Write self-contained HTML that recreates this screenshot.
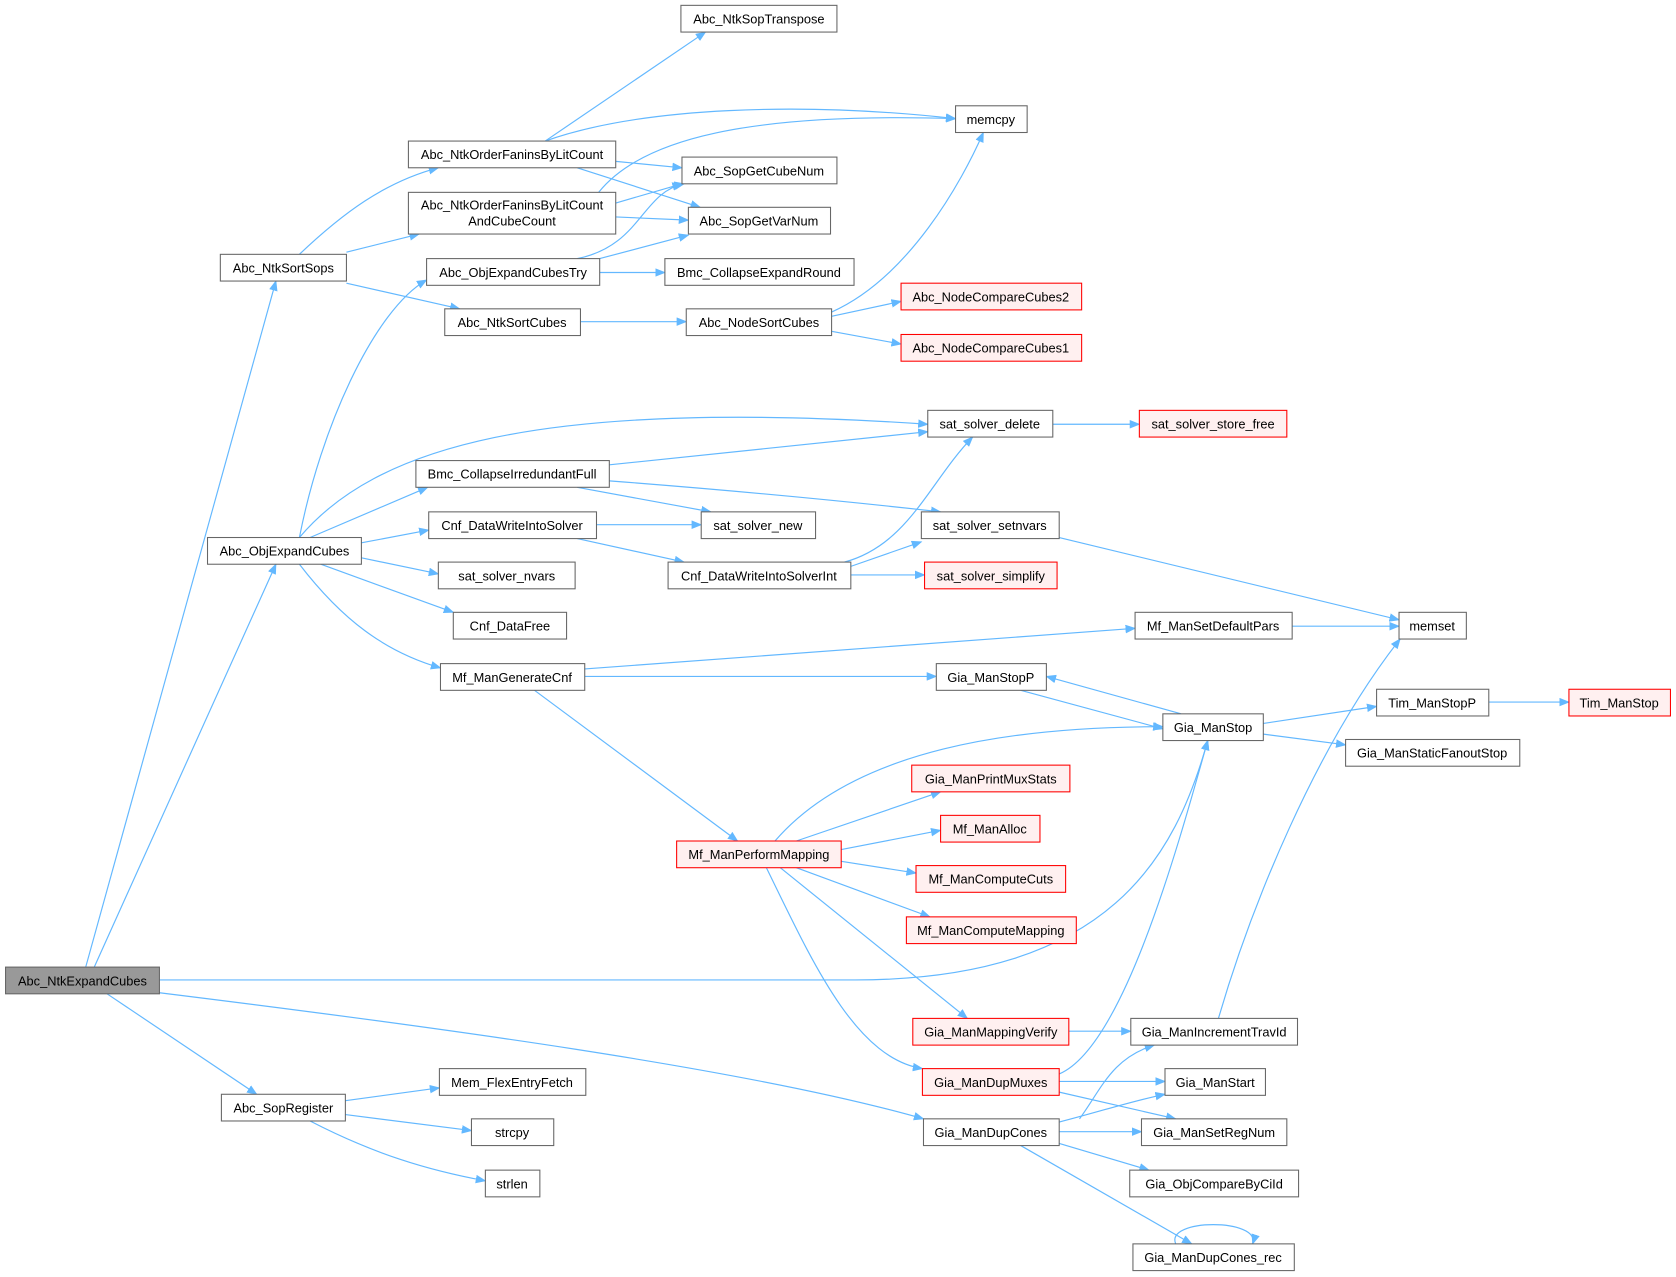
<!DOCTYPE html>
<html><head><meta charset="utf-8"><style>
html,body{margin:0;padding:0;background:#fff;}
svg{display:block;}
text{font-family:"Liberation Sans",Arial,sans-serif;font-size:12px;fill:#000;}
.e{fill:none;stroke:#63b8ff;stroke-width:1.1;}
.n rect{fill:#fff;stroke:#666;stroke-width:1;}
.r rect{fill:#fff0f0;stroke:#ff0000;}
</style></head><body>
<svg width="1676" height="1277" viewBox="0 0 1568 1195" xmlns="http://www.w3.org/2000/svg">
<defs><marker id="a" markerWidth="10" markerHeight="8" refX="9" refY="4" orient="auto" markerUnits="userSpaceOnUse"><path d="M0,0 L10,4 L0,8 z" fill="#63b8ff"/></marker></defs>
<g marker-end="url(#a)">
<path class="e" d="M80,905 L258,263"/>
<path class="e" d="M88,905 L258,528"/>
<path class="e" d="M149,917 L800,917 C1040,917 1100,800 1130,693"/>
<path class="e" d="M149,929 C400,960 700,1000 864,1047"/>
<path class="e" d="M100,930 L240,1024"/>
<path class="e" d="M280,238 C320,200 360,170 410,157"/>
<path class="e" d="M324,236 L392,219"/>
<path class="e" d="M324,265 L430,289"/>
<path class="e" d="M280,503 C300,400 350,290 399,262"/>
<path class="e" d="M280,503 C350,420 500,372 868,397"/>
<path class="e" d="M290,503 L400,456"/>
<path class="e" d="M338,508 L401,496"/>
<path class="e" d="M338,522 L410,537"/>
<path class="e" d="M300,528 L424,573"/>
<path class="e" d="M280,528 C320,580 360,610 412,625"/>
<path class="e" d="M510,132 L660,30"/>
<path class="e" d="M510,132 C600,100 750,95 894,111"/>
<path class="e" d="M576,151 L638,157"/>
<path class="e" d="M540,157 L655,194"/>
<path class="e" d="M560,180 C600,130 700,105 894,111"/>
<path class="e" d="M576,190 L638,172"/>
<path class="e" d="M576,203 L644,206"/>
<path class="e" d="M540,242 C600,230 600,180 640,172"/>
<path class="e" d="M561,242 L644,220"/>
<path class="e" d="M561,255 L622,255"/>
<path class="e" d="M543,301 L642,301"/>
<path class="e" d="M778,292 C850,260 900,170 920,124"/>
<path class="e" d="M778,296 L843,282"/>
<path class="e" d="M778,310 L843,322"/>
<path class="e" d="M985,397 L1066,397"/>
<path class="e" d="M570,435 L868,404"/>
<path class="e" d="M540,456 L665,479"/>
<path class="e" d="M570,450 C700,460 800,470 880,479"/>
<path class="e" d="M558,491 L656,491"/>
<path class="e" d="M540,504 L640,526"/>
<path class="e" d="M790,526 C850,510 870,450 910,409"/>
<path class="e" d="M796,530 L862,507"/>
<path class="e" d="M796,538 L865,538"/>
<path class="e" d="M991,503 L1309,580"/>
<path class="e" d="M547,626 L1062,588"/>
<path class="e" d="M547,633 L876,633"/>
<path class="e" d="M500,646 L690,787"/>
<path class="e" d="M1209,586 L1309,586"/>
<path class="e" d="M955,646 L1088,682"/>
<path class="e" d="M1105,668 L979,633"/>
<path class="e" d="M1182,677 L1288,661"/>
<path class="e" d="M1182,687 L1259,697"/>
<path class="e" d="M1393,657 L1468,657"/>
<path class="e" d="M725,787 C800,700 950,680 1088,680"/>
<path class="e" d="M745,787 L880,741"/>
<path class="e" d="M787,795 L880,777"/>
<path class="e" d="M787,806 L857,817"/>
<path class="e" d="M745,812 L870,858"/>
<path class="e" d="M730,812 L905,953"/>
<path class="e" d="M717,812 C760,900 800,990 863,1000"/>
<path class="e" d="M1000,965 L1058,965"/>
<path class="e" d="M1140,953 C1170,850 1230,700 1310,598"/>
<path class="e" d="M991,1005 C1050,980 1100,800 1130,693"/>
<path class="e" d="M991,1012 L1090,1012"/>
<path class="e" d="M991,1022 L1100,1047"/>
<path class="e" d="M1010,1047 C1030,1020 1040,990 1080,978"/>
<path class="e" d="M991,1050 C1030,1040 1060,1030 1090,1024"/>
<path class="e" d="M991,1059 L1068,1059"/>
<path class="e" d="M991,1070 L1075,1095"/>
<path class="e" d="M955,1072 L1115,1164"/>
<path class="e" d="M1100,1164 C1090,1140 1180,1140 1172,1164"/>
<path class="e" d="M323,1030 L411,1018"/>
<path class="e" d="M323,1043 L441,1058"/>
<path class="e" d="M290,1049 C350,1080 400,1095 454,1105"/>
</g>
<g class="n">
<rect x="5" y="905" width="144" height="25" style="fill:#999"/><text x="77" y="922" text-anchor="middle">Abc_NtkExpandCubes</text>
<rect x="206" y="238" width="118" height="25"/><text x="265" y="255" text-anchor="middle">Abc_NtkSortSops</text>
<rect x="194" y="503" width="144" height="25"/><text x="266" y="520" text-anchor="middle">Abc_ObjExpandCubes</text>
<rect x="207" y="1024" width="116" height="25"/><text x="265" y="1041" text-anchor="middle">Abc_SopRegister</text>
<rect x="382" y="132" width="194" height="25"/><text x="479" y="149" text-anchor="middle">Abc_NtkOrderFaninsByLitCount</text>
<rect x="382" y="180" width="194" height="39"/><text x="479" y="196" text-anchor="middle">Abc_NtkOrderFaninsByLitCount</text><text x="479" y="211" text-anchor="middle">AndCubeCount</text>
<rect x="399" y="242" width="162" height="25"/><text x="480" y="259" text-anchor="middle">Abc_ObjExpandCubesTry</text>
<rect x="416" y="289" width="127" height="25"/><text x="479" y="306" text-anchor="middle">Abc_NtkSortCubes</text>
<rect x="389" y="431" width="181" height="25"/><text x="479" y="448" text-anchor="middle">Bmc_CollapseIrredundantFull</text>
<rect x="401" y="479" width="157" height="25"/><text x="479" y="496" text-anchor="middle">Cnf_DataWriteIntoSolver</text>
<rect x="410" y="526" width="128" height="25"/><text x="474" y="543" text-anchor="middle">sat_solver_nvars</text>
<rect x="424" y="573" width="106" height="25"/><text x="477" y="590" text-anchor="middle">Cnf_DataFree</text>
<rect x="412" y="621" width="135" height="25"/><text x="479" y="638" text-anchor="middle">Mf_ManGenerateCnf</text>
<rect x="411" y="1000" width="137" height="25"/><text x="479" y="1017" text-anchor="middle">Mem_FlexEntryFetch</text>
<rect x="441" y="1047" width="77" height="25"/><text x="479" y="1064" text-anchor="middle">strcpy</text>
<rect x="454" y="1095" width="51" height="25"/><text x="479" y="1112" text-anchor="middle">strlen</text>
<rect x="637" y="5" width="146" height="25"/><text x="710" y="22" text-anchor="middle">Abc_NtkSopTranspose</text>
<rect x="894" y="99" width="67" height="25"/><text x="927" y="116" text-anchor="middle">memcpy</text>
<rect x="638" y="147" width="145" height="25"/><text x="710" y="164" text-anchor="middle">Abc_SopGetCubeNum</text>
<rect x="644" y="194" width="133" height="25"/><text x="710" y="211" text-anchor="middle">Abc_SopGetVarNum</text>
<rect x="622" y="242" width="177" height="25"/><text x="710" y="259" text-anchor="middle">Bmc_CollapseExpandRound</text>
<rect x="642" y="289" width="136" height="25"/><text x="710" y="306" text-anchor="middle">Abc_NodeSortCubes</text>
<rect x="868" y="384" width="117" height="25"/><text x="926" y="401" text-anchor="middle">sat_solver_delete</text>
<rect x="656" y="479" width="107" height="25"/><text x="709" y="496" text-anchor="middle">sat_solver_new</text>
<rect x="862" y="479" width="129" height="25"/><text x="926" y="496" text-anchor="middle">sat_solver_setnvars</text>
<rect x="625" y="526" width="171" height="25"/><text x="710" y="543" text-anchor="middle">Cnf_DataWriteIntoSolverInt</text>
<rect x="1062" y="573" width="147" height="25"/><text x="1135" y="590" text-anchor="middle">Mf_ManSetDefaultPars</text>
<rect x="1309" y="573" width="63" height="25"/><text x="1340" y="590" text-anchor="middle">memset</text>
<rect x="876" y="621" width="103" height="25"/><text x="927" y="638" text-anchor="middle">Gia_ManStopP</text>
<rect x="1088" y="668" width="94" height="25"/><text x="1135" y="685" text-anchor="middle">Gia_ManStop</text>
<rect x="1288" y="645" width="105" height="25"/><text x="1340" y="662" text-anchor="middle">Tim_ManStopP</text>
<rect x="1259" y="692" width="163" height="25"/><text x="1340" y="709" text-anchor="middle">Gia_ManStaticFanoutStop</text>
<rect x="1058" y="953" width="156" height="25"/><text x="1136" y="970" text-anchor="middle">Gia_ManIncrementTravId</text>
<rect x="1090" y="1000" width="94" height="25"/><text x="1137" y="1017" text-anchor="middle">Gia_ManStart</text>
<rect x="864" y="1047" width="127" height="25"/><text x="927" y="1064" text-anchor="middle">Gia_ManDupCones</text>
<rect x="1068" y="1047" width="136" height="25"/><text x="1136" y="1064" text-anchor="middle">Gia_ManSetRegNum</text>
<rect x="1057" y="1095" width="158" height="25"/><text x="1136" y="1112" text-anchor="middle">Gia_ObjCompareByCiId</text>
<rect x="1060" y="1164" width="151" height="25"/><text x="1135" y="1181" text-anchor="middle">Gia_ManDupCones_rec</text>
</g>
<g class="n r">
<rect x="843" y="265" width="169" height="25"/><text x="927" y="282" text-anchor="middle">Abc_NodeCompareCubes2</text>
<rect x="843" y="313" width="169" height="25"/><text x="927" y="330" text-anchor="middle">Abc_NodeCompareCubes1</text>
<rect x="1066" y="384" width="138" height="25"/><text x="1135" y="401" text-anchor="middle">sat_solver_store_free</text>
<rect x="865" y="526" width="124" height="25"/><text x="927" y="543" text-anchor="middle">sat_solver_simplify</text>
<rect x="1468" y="645" width="95" height="25"/><text x="1515" y="662" text-anchor="middle">Tim_ManStop</text>
<rect x="853" y="716" width="148" height="25"/><text x="927" y="733" text-anchor="middle">Gia_ManPrintMuxStats</text>
<rect x="880" y="763" width="93" height="25"/><text x="926" y="780" text-anchor="middle">Mf_ManAlloc</text>
<rect x="633" y="787" width="154" height="25"/><text x="710" y="804" text-anchor="middle">Mf_ManPerformMapping</text>
<rect x="857" y="810" width="140" height="25"/><text x="927" y="827" text-anchor="middle">Mf_ManComputeCuts</text>
<rect x="848" y="858" width="159" height="25"/><text x="927" y="875" text-anchor="middle">Mf_ManComputeMapping</text>
<rect x="854" y="953" width="146" height="25"/><text x="927" y="970" text-anchor="middle">Gia_ManMappingVerify</text>
<rect x="863" y="1000" width="128" height="25"/><text x="927" y="1017" text-anchor="middle">Gia_ManDupMuxes</text>
</g>
</svg>
</body></html>
